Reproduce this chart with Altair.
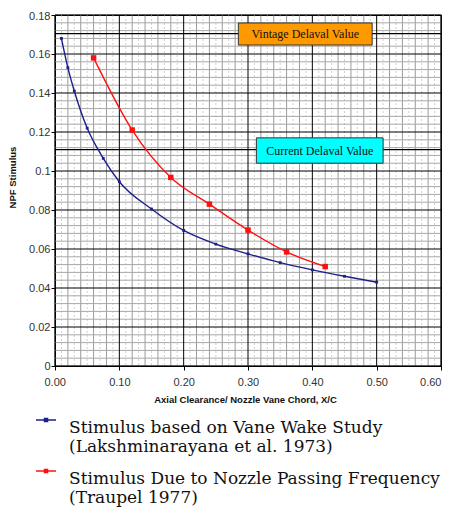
import altair as alt
import pandas as pd
import numpy as np

# ---- data ----
blue_x = [0.01, 0.02, 0.03, 0.05, 0.075, 0.10, 0.15, 0.20, 0.25, 0.30, 0.35, 0.40, 0.45, 0.50]
blue_y = [0.168, 0.153, 0.141, 0.122, 0.1065, 0.0945, 0.0805, 0.0695, 0.0625, 0.0575, 0.053, 0.0493, 0.046, 0.043]
red_x = [0.06, 0.12, 0.18, 0.24, 0.30, 0.36, 0.42]
red_y = [0.158, 0.121, 0.0967, 0.083, 0.0697, 0.0585, 0.051]

series_names = [
    "Stimulus based on Vane Wake Study\n(Lakshminarayana et al. 1973)",
    "Stimulus Due to Nozzle Passing Frequency\n(Traupel 1977)",
]
series_colors = ["#1c2088", "#ff1010"]
marker_sizes = [8, 30]

delaval_y = [0.1705, 0.111]
annot_labels = ["Vintage Delaval Value", "Current Delaval Value"]
annot_x1 = [0.285, 0.313]
annot_x2 = [0.493, 0.510]
annot_y1 = [0.1646, 0.1040]
annot_y2 = [0.1759, 0.1170]
annot_fill = ["#ff9900", "#00ffff"]

x_tick_values = [0.0, 0.1, 0.2, 0.3, 0.4, 0.5, 0.6]
y_tick_values = [0.0, 0.02, 0.04, 0.06, 0.08, 0.10, 0.12, 0.14, 0.16, 0.18]

# ---- tables ----
df = pd.DataFrame({
    "x": blue_x + red_x,
    "y": blue_y + red_y,
    "series": [series_names[0]] * len(blue_x) + [series_names[1]] * len(red_x),
})
annot = pd.DataFrame({
    "label": annot_labels, "x1": annot_x1, "x2": annot_x2,
    "y1": annot_y1, "y2": annot_y2, "fill": annot_fill,
})
annot["xm"] = (annot["x1"] + annot["x2"]) / 2
annot["ym"] = (annot["y1"] + annot["y2"]) / 2

xs = alt.Scale(domain=[0, 0.6], nice=False)
ys = alt.Scale(domain=[0, 0.18], nice=False)
X_AX = alt.Axis(values=x_tick_values, grid=False, labelFlush=True,
                labelExpr="format(datum.value, '.2f')",
                labelOffset=alt.condition("datum.value < 0.01", alt.value(-11), alt.value(0)))
Y_AX = alt.Axis(values=y_tick_values, format="~g", grid=False, labelFlush=True, labelFlushOffset=5)
X_TITLE = "Axial Clearance/ Nozzle Vane Chord, X/C"
Y_TITLE = "NPF Stimulus"

# grid line positions (layout, not data)
x_major = x_tick_values
x_minor = [round(v, 3) for v in np.arange(0, 0.601, 0.02) if abs(round(v * 10) / 10 - v) > 1e-9]
x_fine = [round(v, 3) for v in np.arange(0.01, 0.6, 0.02)]
y_major = y_tick_values
y_minor = [round(v, 3) for v in np.arange(0, 0.181, 0.004) if abs(round(v / 0.02) * 0.02 - v) > 1e-9]

def vrules(vals, color, width=1, dash=None):
    kw = dict(color=color, strokeWidth=width)
    if dash:
        kw["strokeDash"] = dash
    return alt.Chart(pd.DataFrame({"v": vals})).mark_rule(**kw).encode(
        x=alt.X("v:Q", scale=xs, axis=X_AX, title=X_TITLE))

def hrules(vals, color, width=1):
    return alt.Chart(pd.DataFrame({"v": vals})).mark_rule(color=color, strokeWidth=width).encode(
        y=alt.Y("v:Q", scale=ys, axis=Y_AX, title=Y_TITLE))

grid = (
    vrules(x_fine, "#d2d2d2", 1, [2, 2])
    + vrules(x_minor, "#9a9a9a")
    + hrules(y_minor, "#a8a8a8")
    + vrules(x_major, "#000000")
    + hrules(y_major, "#000000")
    + hrules(delaval_y, "#000000", 1.3)
)

color_scale = alt.Scale(domain=series_names, range=series_colors)

lines = alt.Chart(df).mark_line(strokeWidth=1.4, interpolate="monotone").encode(
    x=alt.X("x:Q", scale=xs, axis=X_AX, title=X_TITLE),
    y=alt.Y("y:Q", scale=ys, axis=Y_AX, title=Y_TITLE),
    color=alt.Color("series:N", scale=color_scale, title=None,
                    legend=alt.Legend(
                        orient="none", legendX=-20, legendY=394,
                        labelExpr="split(datum.label, '\\n')",
                        labelFont="DejaVu Serif", labelFontSize=17,
                        labelColor="#111111", labelLimit=600,
                        labelBaseline="top", labelOffset=12,
                        symbolType="M-1,0H1M-0.15,-0.15H0.15V0.15H-0.15Z",
                        symbolSize=400, symbolStrokeWidth=1.5,
                        rowPadding=5, padding=0, direction="vertical",
                    )),
)

def point_layer(i):
    return alt.Chart(df).transform_filter(
        alt.datum.series == series_names[i]
    ).mark_point(filled=True, shape="square", opacity=1, strokeWidth=0,
                 size=marker_sizes[i], fill=series_colors[i]).encode(
        x=alt.X("x:Q", scale=xs, axis=X_AX, title=X_TITLE),
        y=alt.Y("y:Q", scale=ys, axis=Y_AX, title=Y_TITLE),
    )

boxes = alt.Chart(annot).mark_rect(stroke="#333333", strokeWidth=1).encode(
    x=alt.X("x1:Q", scale=xs, axis=X_AX, title=X_TITLE), x2="x2:Q",
    y=alt.Y("y1:Q", scale=ys, axis=Y_AX, title=Y_TITLE), y2="y2:Q",
    fill=alt.Fill("fill:N", scale=None, legend=None),
)
box_text = alt.Chart(annot).mark_text(font="Liberation Serif", fontSize=12, color="#111111").encode(
    x=alt.X("xm:Q", scale=xs, axis=X_AX, title=X_TITLE),
    y=alt.Y("ym:Q", scale=ys, axis=Y_AX, title=Y_TITLE),
    text="label:N",
)

chart = alt.layer(grid, lines, point_layer(0), point_layer(1), boxes, box_text).properties(
    width=386, height=351,
    autosize=alt.AutoSizeParams(type="none"),
    padding={"left": 47, "top": 7, "right": 5, "bottom": 141},
).configure_view(
    stroke="#000000", strokeWidth=1.2,
).configure_axis(
    domainColor="#000000", tickColor="#000000", tickSize=4,
    labelFont="Liberation Sans", labelFontSize=11, labelColor="#333333",
    titleFont="Liberation Sans", titleFontSize=9.5, titleFontWeight="bold", titleColor="#111111",
).configure_axisX(
    labelPadding=6, titlePadding=7, titleX=190,
).configure_axisY(
    labelPadding=1, titleX=-38, titleY=162,
)

chart.save("out.html", embed_options={"renderer": "svg", "actions": False})
